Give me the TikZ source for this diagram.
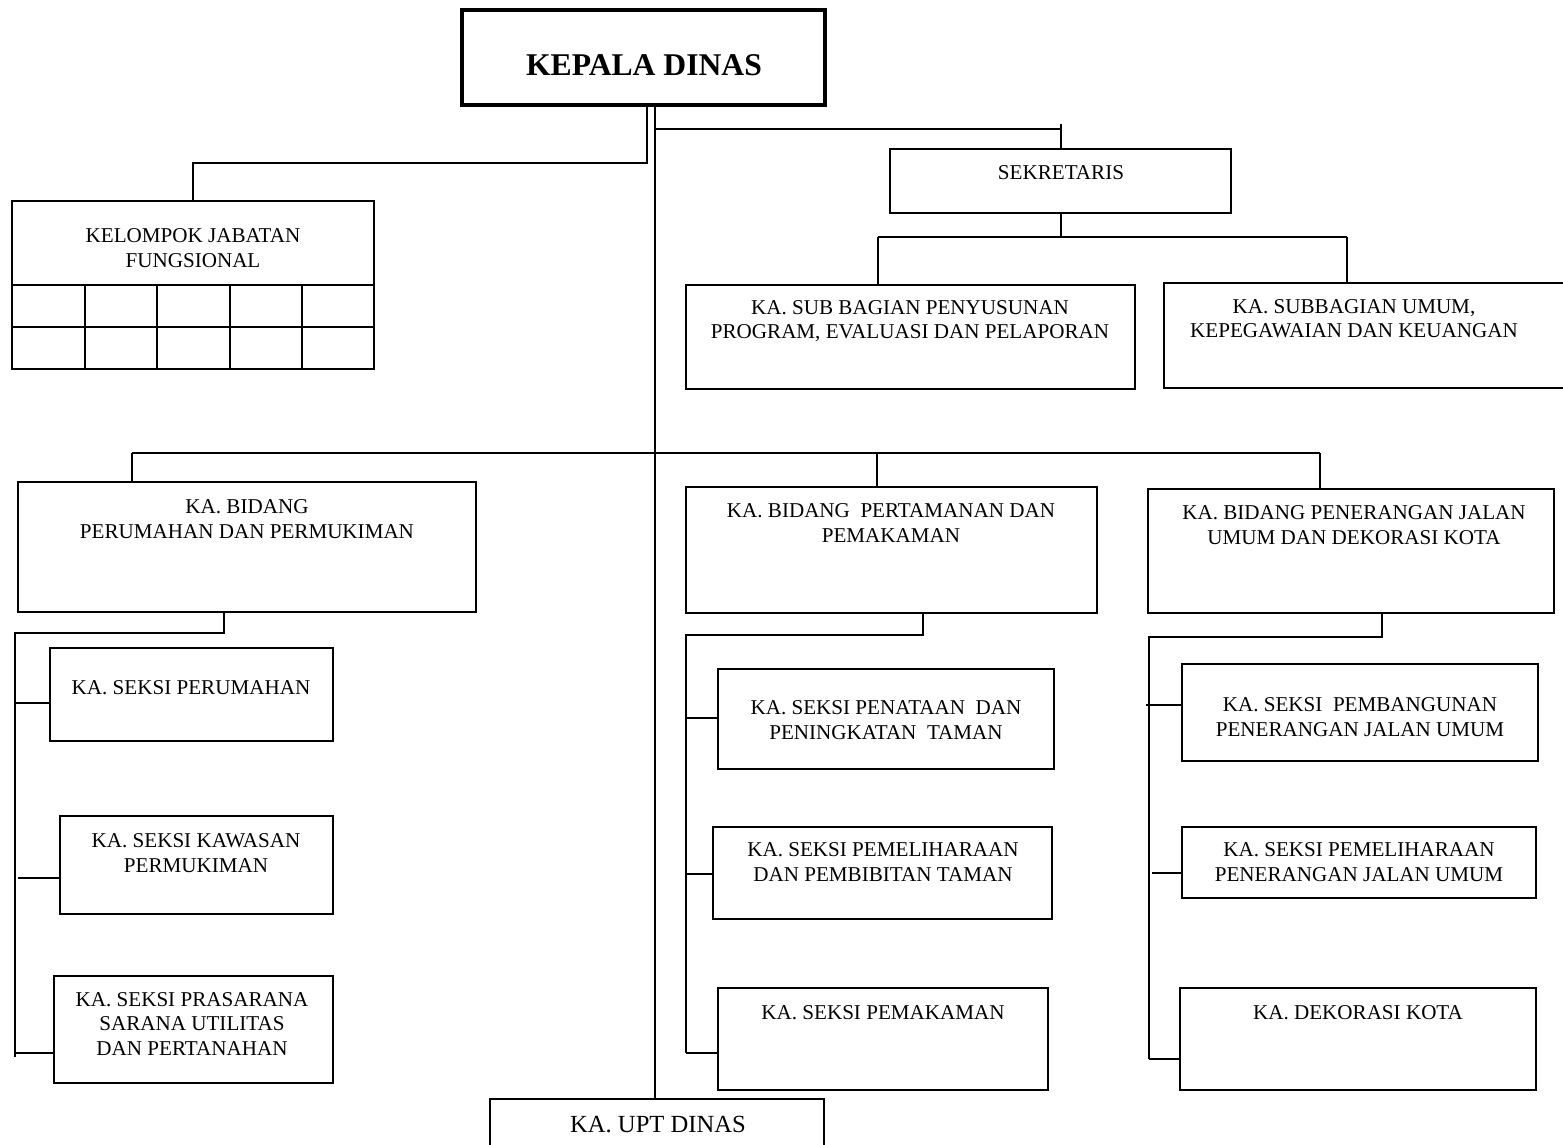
\documentclass[tikz,border=0pt]{standalone}
\usepackage{fontspec}
\setmainfont{Liberation Serif}
\usepackage{tikz}
\usetikzlibrary{fit}

\tikzset{
  kotak/.style={draw, line width=0.5pt, inner sep=0pt},
  teks/.style={font=\fontsize{6}{6.9}\selectfont, align=center, inner sep=0pt},
  garis/.style={line width=0.5pt},
}

\begin{document}
\begin{tikzpicture}[x=0.01cm, y=-0.01cm]
        \useasboundingbox (0,0) rectangle (1563,1145);
        \clip (0,0) rectangle (1563,1145);
        \fill[white] (0,0) rectangle (1563,1145);

        \node[kotak, line width=1pt, fit={(462,10) (825,105)}] (kd) {};
        \node[kotak, fit={(12,201) (374,369)}] (kjf) {};
        \node[kotak, fit={(890,149) (1231,213)}] (sek) {};
        \node[kotak, fit={(686,285) (1135,389)}] (subprog) {};
        \node[kotak, fit={(1164,283) (1580,388)}] (subumum) {};
        \node[kotak, fit={(18,482) (476,612)}] (bperum) {};
        \node[kotak, fit={(50,648) (333,741)}] (sperum) {};
        \node[kotak, fit={(60,816) (333,914)}] (skawasan) {};
        \node[kotak, fit={(54,976) (333,1083)}] (sprasarana) {};
        \node[kotak, fit={(490,1099) (824,1170)}] (upt) {};
        \node[kotak, fit={(686,487) (1097,613)}] (btaman) {};
        \node[kotak, fit={(718,669) (1054,769)}] (spenataan) {};
        \node[kotak, fit={(713,827) (1052,919)}] (spemeltaman) {};
        \node[kotak, fit={(718,988) (1048,1090)}] (spemakaman) {};
        \node[kotak, fit={(1148,489) (1554,613)}] (bpju) {};
        \node[kotak, fit={(1182,664) (1538,761)}] (spju) {};
        \node[kotak, fit={(1182,827) (1536,898)}] (spemelpju) {};
        \node[kotak, fit={(1180,988) (1536,1090)}] (sdekor) {};

        \draw[garis] (12,285) -- (374,285);
        \draw[garis] (12,327) -- (374,327);
        \draw[garis] (85,285) -- (85,369);
        \draw[garis] (157,285) -- (157,369);
        \draw[garis] (230,285) -- (230,369);
        \draw[garis] (302,285) -- (302,369);

        \node[teks, font=\fontsize{9}{11}\selectfont\bfseries] (kd-teks) at (644,65) {KEPALA DINAS};
        \node[teks] (kjf-teks) at (193,248) {KELOMPOK JABATAN\\FUNGSIONAL};
        \node[teks] (sek-teks) at (1061,173) {SEKRETARIS};
        \node[teks] (subprog-teks) at (910,321) {KA. SUB BAGIAN PENYUSUNAN\\PROGRAM, EVALUASI DAN PELAPORAN};
        \node[teks] (subumum-teks) at (1354,319) {KA. SUBBAGIAN UMUM,\\KEPEGAWAIAN DAN KEUANGAN};
        \node[teks] (bperum-teks) at (247,519) {KA. BIDANG\\PERUMAHAN DAN PERMUKIMAN};
        \node[teks] (sperum-teks) at (191,688) {KA. SEKSI PERUMAHAN};
        \node[teks] (skawasan-teks) at (196,853) {KA. SEKSI KAWASAN\\PERMUKIMAN};
        \node[teks] (sprasarana-teks) at (192,1024) {KA. SEKSI PRASARANA\\SARANA UTILITAS\\DAN PERTANAHAN};
        \node[teks, font=\fontsize{7}{8}\selectfont] (upt-teks) at (658,1125) {KA. UPT DINAS};
        \node[teks] (btaman-teks) at (891,523) {KA. BIDANG~ PERTAMANAN DAN\\PEMAKAMAN};
        \node[teks] (spenataan-teks) at (886,720) {KA. SEKSI PENATAAN~ DAN\\PENINGKATAN~ TAMAN};
        \node[teks] (spemeltaman-teks) at (883,862) {KA. SEKSI PEMELIHARAAN\\DAN PEMBIBITAN TAMAN};
        \node[teks] (spemakaman-teks) at (883,1013) {KA. SEKSI PEMAKAMAN};
        \node[teks] (bpju-teks) at (1354,525) {KA. BIDANG PENERANGAN JALAN\\UMUM DAN DEKORASI KOTA};
        \node[teks] (spju-teks) at (1360,717) {KA. SEKSI~ PEMBANGUNAN\\PENERANGAN JALAN UMUM};
        \node[teks] (spemelpju-teks) at (1359,862) {KA. SEKSI PEMELIHARAAN\\PENERANGAN JALAN UMUM};
        \node[teks] (sdekor-teks) at (1358,1013) {KA. DEKORASI KOTA};

        \coordinate (c-atas) at (655,129);
        \coordinate (c-atas-kanan) at (1061,124);
        \coordinate (c-kjf) at (647,163);
        \coordinate (c-sek) at (1061,237);
        \coordinate (c-sek-a) at (878,237);
        \coordinate (c-sek-b) at (1347,237);
        \coordinate (c-bid-a) at (132,453);
        \coordinate (c-bid-b) at (1320,453);
        \coordinate (c-bid-c) at (877,453);

        \draw[garis] (kd.south -| c-atas) -- (upt.north -| c-atas);
        \draw[garis] (c-atas) -- (c-atas -| c-atas-kanan);
        \draw[garis] (c-atas-kanan) -- (c-atas-kanan |- sek.north);
        \draw[garis] (kd.south -| c-kjf) -- (c-kjf) -| (kjf.north);
        \draw[garis] (c-sek |- sek.south) -- (c-sek);
        \draw[garis] (c-sek-a) -- (c-sek-b);
        \draw[garis] (c-sek-a) -- (c-sek-a |- subprog.north);
        \draw[garis] (c-sek-b) -- (c-sek-b |- subumum.north);
        \draw[garis] (c-bid-a) -- (c-bid-b);
        \draw[garis] (c-bid-a) -- (c-bid-a |- bperum.north);
        \draw[garis] (c-bid-c) -- (c-bid-c |- btaman.north);
        \draw[garis] (c-bid-b) -- (c-bid-b |- bpju.north);

        \coordinate (c-perum) at (224,633);
        \coordinate (c-perum-kiri) at (15,633);
        \coordinate (c-perum-bawah) at (15,1057);
        \coordinate (c-perum-1) at (15,703);
        \coordinate (c-perum-2) at (18,878);
        \coordinate (c-perum-3) at (15,1053);
        \draw[garis] (bperum.south -| c-perum) -- (c-perum) -- (c-perum-kiri) -- (c-perum-bawah);
        \draw[garis] (c-perum-1) -- (c-perum-1 -| sperum.west);
        \draw[garis] (c-perum-2) -- (c-perum-2 -| skawasan.west);
        \draw[garis] (c-perum-3) -- (c-perum-3 -| sprasarana.west);

        \coordinate (c-taman) at (923,635);
        \coordinate (c-taman-kiri) at (686,635);
        \coordinate (c-taman-bawah) at (686,1053);
        \coordinate (c-taman-1) at (686,718);
        \coordinate (c-taman-2) at (686,874);
        \draw[garis] (btaman.south -| c-taman) -- (c-taman) -- (c-taman-kiri) -- (c-taman-bawah);
        \draw[garis] (c-taman-1) -- (c-taman-1 -| spenataan.west);
        \draw[garis] (c-taman-2) -- (c-taman-2 -| spemeltaman.west);
        \draw[garis] (c-taman-bawah) -- (c-taman-bawah -| spemakaman.west);

        \coordinate (c-pju) at (1382,637);
        \coordinate (c-pju-kiri) at (1149,637);
        \coordinate (c-pju-bawah) at (1149,1059);
        \coordinate (c-pju-1) at (1146,705);
        \coordinate (c-pju-2) at (1152,873);
        \draw[garis] (bpju.south -| c-pju) -- (c-pju) -- (c-pju-kiri) -- (c-pju-bawah);
        \draw[garis] (c-pju-1) -- (c-pju-1 -| spju.west);
        \draw[garis] (c-pju-2) -- (c-pju-2 -| spemelpju.west);
        \draw[garis] (c-pju-bawah) -- (c-pju-bawah -| sdekor.west);

    \end{tikzpicture}
\end{document}
